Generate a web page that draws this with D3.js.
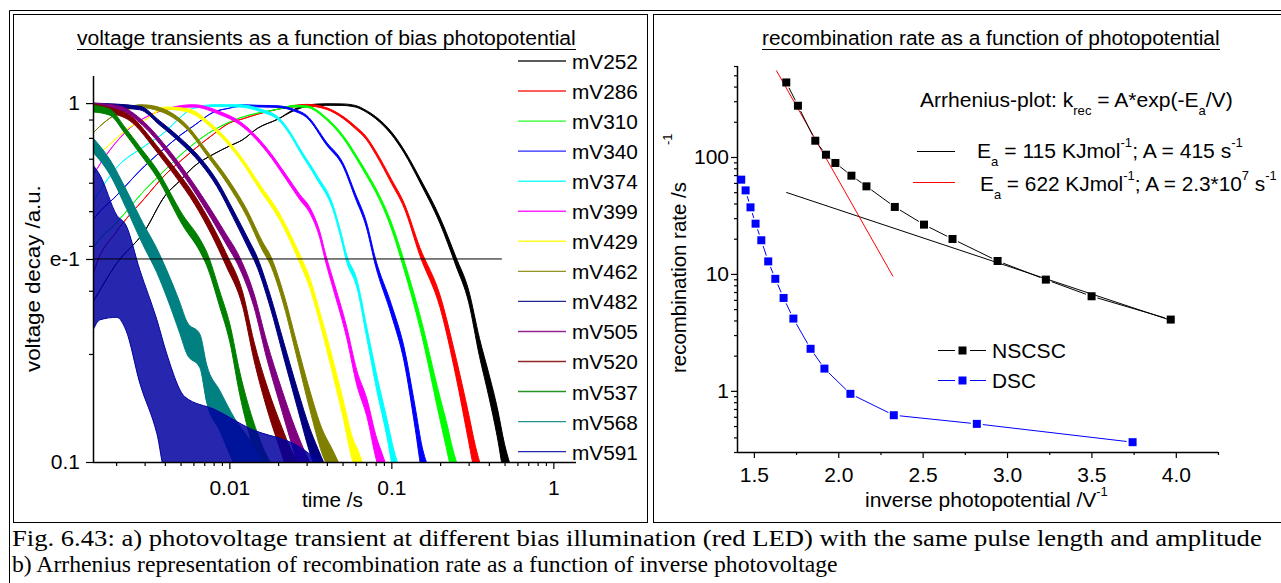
<!DOCTYPE html>
<html>
<head>
<meta charset="utf-8">
<script src="https://cdn.jsdelivr.net/npm/d3@7"></script>
<style>
  body { margin: 0; background: #fff; }
  svg text { font-family: "Liberation Sans", Arial, sans-serif; white-space: pre; }
</style>
</head>
<body>
<svg id="fig" width="1281" height="583"></svg>
<script>
// ---------- panel a: normalised photovoltage transients, [time s, lower, upper] of the noisy trace ----------
const biasLabels = ["mV252","mV286","mV310","mV340","mV374","mV399","mV429","mV462","mV482","mV505","mV520","mV537","mV568","mV591"];
const seriesColors = ["#000000","#ff0000","#00ff00","#0000ff","#00ffff","#ff00ff","#ffff00","#808000","#000080","#800080","#800000","#008000","#008080","#0000a0"];

const mV252 = [[0.00144,0.279,0.279],[0.0015,0.288,0.288],[0.002,0.356,0.356],[0.003,0.440,0.440],[0.004,0.551,0.551],[0.005,0.610,0.610],[0.006,0.664,0.664],[0.008,0.721,0.721],[0.01,0.759,0.759],[0.012,0.789,0.789],[0.015,0.852,0.852],[0.02,0.903,0.903],[0.025,0.952,0.96],[0.03,0.978,0.988],[0.04,0.986,0.996],[0.05,0.985,0.995],[0.06,0.975,0.985],[0.07,0.944,0.954],[0.08,0.905,0.917],[0.1,0.818,0.832],[0.12,0.726,0.74],[0.15,0.602,0.618],[0.2,0.461,0.479],[0.25,0.353,0.373],[0.3,0.279,0.301],[0.35,0.197,0.221],[0.4,0.152,0.176],[0.45,0.118,0.142],[0.5,0.09,0.112],[0.55,0.078,0.096]];
const mV286 = [[0.00144,0.332,0.332],[0.0015,0.352,0.352],[0.002,0.437,0.437],[0.003,0.543,0.543],[0.004,0.630,0.630],[0.005,0.690,0.690],[0.006,0.740,0.740],[0.008,0.820,0.820],[0.01,0.880,0.880],[0.012,0.903,0.903],[0.015,0.932,0.932],[0.02,0.962,0.962],[0.025,0.975,0.985],[0.03,0.982,0.992],[0.04,0.96,0.97],[0.05,0.908,0.92],[0.06,0.848,0.862],[0.07,0.792,0.806],[0.08,0.72,0.736],[0.1,0.598,0.614],[0.12,0.51,0.526],[0.15,0.376,0.396],[0.2,0.269,0.291],[0.25,0.174,0.196],[0.3,0.114,0.136],[0.33,0.091,0.111],[0.36,0.078,0.096]];
const mV310 = [[0.00144,0.394,0.394],[0.0015,0.405,0.405],[0.002,0.463,0.463],[0.003,0.572,0.572],[0.004,0.651,0.651],[0.005,0.717,0.717],[0.006,0.769,0.769],[0.008,0.841,0.841],[0.01,0.885,0.885],[0.012,0.914,0.914],[0.015,0.938,0.938],[0.02,0.962,0.962],[0.025,0.976,0.986],[0.03,0.973,0.983],[0.04,0.896,0.908],[0.05,0.802,0.816],[0.06,0.707,0.722],[0.07,0.629,0.644],[0.08,0.565,0.58],[0.1,0.447,0.465],[0.12,0.343,0.363],[0.15,0.237,0.257],[0.2,0.131,0.151],[0.22,0.108,0.128],[0.24,0.09,0.108],[0.26,0.078,0.096]];
const mV340 = [[0.00144,0.472,0.472],[0.0015,0.484,0.484],[0.002,0.551,0.551],[0.003,0.668,0.668],[0.004,0.749,0.749],[0.005,0.815,0.815],[0.006,0.863,0.863],[0.008,0.944,0.944],[0.01,0.968,0.968],[0.012,0.98,0.99],[0.015,0.976,0.986],[0.02,0.973,0.983],[0.025,0.951,0.961],[0.03,0.912,0.924],[0.04,0.762,0.776],[0.05,0.67,0.684],[0.06,0.543,0.559],[0.07,0.452,0.468],[0.08,0.351,0.367],[0.1,0.257,0.275],[0.12,0.19,0.208],[0.14,0.125,0.143],[0.155,0.092,0.11],[0.17,0.078,0.096]];
const mV374 = [[0.00144,0.531,0.531],[0.0015,0.547,0.547],[0.002,0.659,0.659],[0.003,0.759,0.759],[0.004,0.83,0.83],[0.005,0.914,0.914],[0.006,0.968,0.968],[0.008,0.978,0.99],[0.0116,0.975,0.99],[0.0154,0.948,0.964],[0.0205,0.889,0.905],[0.02363,0.817,0.833],[0.02724,0.732,0.748],[0.03468,0.614,0.63],[0.04356,0.505,0.521],[0.0488,0.421,0.437],[0.0531,0.36,0.376],[0.0612,0.307,0.323],[0.0706,0.221,0.237],[0.0814,0.158,0.174],[0.0938,0.118,0.132],[0.1036,0.092,0.108],[0.1129,0.078,0.095]];
const mV399 = [[0.00144,0.63,0.63],[0.00183,0.74,0.74],[0.00243,0.852,0.852],[0.00323,0.926,0.926],[0.00429,0.962,0.97],[0.006,0.975,0.99],[0.00874,0.929,0.947],[0.0116,0.871,0.889],[0.01704,0.731,0.749],[0.02264,0.609,0.627],[0.02724,0.538,0.556],[0.0314,0.494,0.512],[0.0362,0.42,0.438],[0.03942,0.359,0.377],[0.04356,0.306,0.324],[0.0531,0.221,0.237],[0.0612,0.164,0.18],[0.0706,0.134,0.15],[0.0814,0.1,0.116],[0.0861,0.092,0.108],[0.0951,0.078,0.095]];
const mV429 = [[0.00144,0.717,0.717],[0.00166,0.74,0.74],[0.00202,0.80,0.80],[0.00243,0.857,0.857],[0.00301,0.897,0.897],[0.004,0.962,0.975],[0.00547,0.946,0.966],[0.00791,0.847,0.867],[0.01161,0.697,0.717],[0.01543,0.573,0.593],[0.0205,0.471,0.491],[0.02724,0.358,0.378],[0.0314,0.305,0.325],[0.0362,0.244,0.262],[0.04356,0.175,0.193],[0.05019,0.134,0.15],[0.05788,0.1,0.116],[0.06213,0.092,0.108],[0.06862,0.078,0.095]];
const mV462 = [[0.00144,0.825,0.825],[0.0015,0.841,0.841],[0.00183,0.908,0.908],[0.0023,0.956,0.962],[0.0028,0.972,0.99],[0.00323,0.966,0.986],[0.00547,0.846,0.868],[0.00726,0.715,0.737],[0.00965,0.599,0.621],[0.01282,0.483,0.505],[0.0161,0.387,0.409],[0.01778,0.357,0.379],[0.0217,0.273,0.293],[0.02611,0.196,0.214],[0.0314,0.14,0.158],[0.03724,0.106,0.124],[0.04295,0.091,0.109],[0.0481,0.078,0.098]];
const mV482 = [[0.00144,0.98,1.0],[0.0028,0.958,0.98],[0.00372,0.868,0.892],[0.00495,0.777,0.801],[0.00658,0.682,0.706],[0.00837,0.586,0.61],[0.01051,0.482,0.506],[0.01338,0.386,0.41],[0.01458,0.356,0.38],[0.01778,0.272,0.294],[0.0217,0.195,0.215],[0.02648,0.14,0.158],[0.0314,0.106,0.124],[0.03518,0.091,0.109],[0.03886,0.078,0.098]];
const mV505 = [[0.00144,0.975,1.0],[0.00211,0.955,0.98],[0.00292,0.867,0.893],[0.00411,0.727,0.753],[0.00547,0.609,0.635],[0.00726,0.5,0.526],[0.00965,0.402,0.428],[0.01128,0.355,0.381],[0.01417,0.271,0.295],[0.01704,0.194,0.216],[0.02109,0.139,0.159],[0.02537,0.105,0.125],[0.02843,0.09,0.11],[0.0314,0.078,0.1]];
const mV520 = [[0.00144,0.965,0.995],[0.00183,0.94,0.972],[0.00243,0.893,0.923],[0.00362,0.725,0.755],[0.00461,0.628,0.658],[0.00612,0.522,0.552],[0.0078,0.428,0.458],[0.00952,0.353,0.383],[0.01211,0.27,0.296],[0.01417,0.193,0.217],[0.01729,0.138,0.16],[0.02109,0.105,0.125],[0.02363,0.09,0.11],[0.0265,0.078,0.1]];
const mV537 = [[0.00144,0.945,0.985],[0.00183,0.925,0.962],[0.00226,0.825,0.858],[0.0028,0.724,0.756],[0.00357,0.622,0.654],[0.00516,0.456,0.488],[0.00658,0.386,0.418],[0.00726,0.352,0.384],[0.00874,0.27,0.298],[0.01007,0.216,0.242],[0.0116,0.154,0.178],[0.01397,0.11,0.131],[0.0161,0.09,0.11],[0.0178,0.078,0.1]];
const mV568 = [[0.00144,0.73,0.80],[0.00183,0.632,0.696],[0.00233,0.505,0.569],[0.00292,0.404,0.464],[0.00357,0.337,0.393],[0.00411,0.288,0.342],[0.00495,0.228,0.278],[0.00547,0.2,0.246],[0.00658,0.183,0.227],[0.00726,0.146,0.186],[0.00874,0.122,0.158],[0.01081,0.098,0.132],[0.01338,0.085,0.115],[0.016,0.078,0.1]];
const mV591 = [[0.00144,0.233,0.672],[0.00159,0.249,0.63],[0.00202,0.253,0.487],[0.0023,0.233,0.457],[0.0028,0.166,0.343],[0.00357,0.12,0.249],[0.00411,0.09,0.2],[0.00531,0.089,0.152],[0.00814,0.089,0.14],[0.01338,0.089,0.124],[0.02724,0.089,0.11],[0.0362,0.089,0.1]];
const transients = [mV252, mV286, mV310, mV340, mV374, mV399, mV429, mV462, mV482, mV505, mV520, mV537, mV568, mV591];

// 1/e level marker
const eLevel = [[0.00144, 0.3679], [0.481, 0.3679]];

const timeTicks = [0.01, 0.1, 1];
const timeTickLabels = ["0.01", "0.1", "1"];
const timeMinor = [0.002,0.003,0.004,0.005,0.006,0.007,0.008,0.009,0.02,0.03,0.04,0.05,0.06,0.07,0.08,0.09,0.2,0.3,0.4,0.5,0.6,0.7,0.8,0.9];
const decayTicks = [0.1, 0.3679, 1];
const decayTickLabels = ["0.1", "e-1", "1"];
const decayMinor = [0.2,0.3,0.4,0.5,0.6,0.7,0.8,0.9];

// ---------- panel b: recombination rate vs inverse photopotential ----------
const invV_NSCSC = [1.692, 1.761, 1.864, 1.927, 1.983, 2.078, 2.167, 2.335, 2.508, 2.677, 2.944, 3.230, 3.501, 3.970];
const rate_NSCSC = [434, 274.5, 137.8, 104.6, 88.9, 69.2, 56.1, 37.4, 26.4, 19.9, 12.9, 8.94, 6.44, 4.07];
const invV_DSC = [1.425, 1.451, 1.480, 1.510, 1.544, 1.585, 1.627, 1.676, 1.734, 1.836, 1.918, 2.072, 2.329, 2.821, 3.744];
const rate_DSC = [64.0, 51.8, 37.1, 26.9, 19.4, 12.8, 9.08, 6.23, 4.15, 2.29, 1.55, 0.943, 0.619, 0.522, 0.364];
const fit115 = [[1.692, 49.8], [3.970, 4.01]];
const fit622 = [[1.633, 550], [2.324, 9.54]];

const invVTicks = [1.5, 2.0, 2.5, 3.0, 3.5, 4.0];
const invVMinor = [1.75, 2.25, 2.75, 3.25, 3.75, 4.25];
const rateTicks = [1, 10, 100];
const rateMinor = [0.3,0.4,0.5,0.6,0.7,0.8,0.9,2,3,4,5,6,7,8,9,20,30,40,50,60,70,80,90,200,300,400,500,600];

const captionLines = [
  "Fig. 6.43: a) photovoltage transient at different bias illumination (red LED) with the same pulse length and amplitude",
  "b) Arrhenius representation of recombination rate as a function of inverse photovoltage"
];

// ======================================================================
const svg = d3.select("#fig");
const FONT = 21;
const SANS = "Liberation Sans, Arial, sans-serif";

// squeeze a text element horizontally so that it spans `width` from x0
function fitWidth(t, x0, width) {
  const w = t.node().getBBox().width;
  const k = width / w;
  t.attr("transform", `translate(${x0},0) scale(${k},1) translate(${-x0},0)`);
  return t;
}
// text with sub/superscript runs: parts = [[string, shift]] (1 sup, -1 sub)
function richText(g, x, y, parts, size) {
  const t = g.append("text").attr("x", x).attr("y", y).attr("font-size", size);
  let cur = 0;
  parts.forEach(([s, shift]) => {
    const target = shift === 1 ? -Math.round(size * 0.5) : shift === -1 ? Math.round(size * 0.38) : 0;
    t.append("tspan").attr("dy", target - cur).attr("font-size", shift ? Math.round(size * 0.62) : size).text(s);
    cur = target;
  });
  return t;
}
function styleAxis(g) {
  g.attr("font-size", FONT).attr("font-family", SANS);
  g.selectAll("text").attr("fill", "#000");
}

// ---------- table frame ----------
const frame = svg.append("g").attr("fill", "none").attr("stroke", "#000").attr("stroke-width", 1);
frame.append("path").attr("d", "M9.5,583 V10.5 H1281");
frame.append("rect").attr("x", 13.5).attr("y", 14.5).attr("width", 634).attr("height", 508);
frame.append("rect").attr("x", 653.5).attr("y", 14.5).attr("width", 700).attr("height", 508);

// ---------- panel a ----------
const A = { left: 93, right: 576, top: 76, bottom: 462 };
const xA = d3.scaleLog().domain([0.00144, 1.38]).range([A.left, A.right]);
const yA = d3.scaleLog().domain([0.1, 1.19]).range([A.bottom, A.top]);
const ga = svg.append("g");

ga.append("clipPath").attr("id", "clipA").append("rect")
  .attr("x", A.left).attr("y", A.top - 10).attr("width", A.right - A.left).attr("height", A.bottom - A.top + 10);

const band = d3.area()
  .x(d => xA(d[0])).y0(d => yA(d[1])).y1(d => yA(d[2]))
  .curve(d3.curveMonotoneX);

const traces = ga.append("g").attr("clip-path", "url(#clipA)");
transients.forEach((s, i) => {
  traces.append("path").datum(s)
    .attr("d", band)
    .attr("fill", seriesColors[i])
    .attr("fill-opacity", i === transients.length - 1 ? 0.85 : 1)
    .attr("stroke", seriesColors[i])
    .attr("stroke-width", 1)
    .attr("stroke-linejoin", "round");
});

ga.append("path").datum(eLevel)
  .attr("d", d3.line().x(d => xA(d[0])).y(d => yA(d[1])))
  .attr("stroke", "#000").attr("stroke-width", 1).attr("fill", "none");

// axes
const axA = ga.append("g");
const yAxisA = axA.append("g").attr("transform", `translate(${A.left},0)`)
  .call(d3.axisLeft(yA).tickValues(decayTicks).tickFormat((d, i) => decayTickLabels[i]).tickSize(7).tickSizeOuter(0).tickPadding(6));
axA.append("g").attr("transform", `translate(${A.left},0)`)
  .call(d3.axisLeft(yA).tickValues(decayMinor).tickFormat("").tickSize(4).tickSizeOuter(0))
  .select(".domain").remove();
const xAxisA = axA.append("g").attr("transform", `translate(0,${A.bottom})`)
  .call(d3.axisBottom(xA).tickValues(timeTicks).tickFormat((d, i) => timeTickLabels[i]).tickSize(7).tickSizeOuter(0).tickPadding(11));
axA.append("g").attr("transform", `translate(0,${A.bottom})`)
  .call(d3.axisBottom(xA).tickValues(timeMinor).tickFormat("").tickSize(4).tickSizeOuter(0))
  .select(".domain").remove();
yAxisA.select(".domain").attr("d", `M0.5,${A.top}V${A.bottom}`);
xAxisA.select(".domain").attr("d", `M${A.left},0.5H${A.right}`);
axA.selectAll(".domain").attr("stroke-width", 1.5);
axA.selectAll(".tick line").attr("stroke-width", 1.2);
styleAxis(yAxisA); styleAxis(xAxisA);

// titles
const titleA = ga.append("text").attr("x", 77).attr("y", 45).attr("font-size", FONT).text("voltage transients as a function of bias photopotential");
fitWidth(titleA, 77, 499);
ga.append("line").attr("x1", 77).attr("x2", 576).attr("y1", 49.5).attr("y2", 49.5).attr("stroke", "#000").attr("stroke-width", 1);

const xLabA = ga.append("text").attr("x", 302).attr("y", 507).attr("font-size", FONT).text("time /s");
fitWidth(xLabA, 302, 61);
const yLabGA = ga.append("g").attr("transform", "translate(40,372) rotate(-90)");
const yLabA = yLabGA.append("text").attr("x", 0).attr("y", 0).attr("font-size", FONT).text("voltage decay /a.u.");
fitWidth(yLabA, 0, 187);

// legend
const legA = ga.append("g");
biasLabels.forEach((lab, i) => {
  const y = 61 + i * 30.05;
  legA.append("line").attr("x1", 518).attr("x2", 566).attr("y1", y).attr("y2", y)
    .attr("stroke", seriesColors[i]).attr("stroke-width", 1.4).attr("opacity", 0.85);
  const t = legA.append("text").attr("x", 572).attr("y", y + 8).attr("font-size", FONT).text(lab);
  fitWidth(t, 572, 66);
});

// ---------- panel b ----------
const B = { left: 737, right: 1218, top: 66, bottom: 452 };
const xB = d3.scaleLinear().domain([1.4, 4.25]).range([B.left, B.right]);
const yB = d3.scaleLog().domain([0.3, 600]).range([B.bottom, B.top]);
const gb = svg.append("g");

const axB = gb.append("g");
const yAxisB = axB.append("g").attr("transform", `translate(${B.left},0)`)
  .call(d3.axisLeft(yB).tickValues(rateTicks).tickFormat(d3.format("d")).tickSize(6).tickSizeOuter(0).tickPadding(2));
axB.append("g").attr("transform", `translate(${B.left},0)`)
  .call(d3.axisLeft(yB).tickValues(rateMinor).tickFormat("").tickSize(3).tickSizeOuter(0))
  .select(".domain").remove();
const xAxisB = axB.append("g").attr("transform", `translate(0,${B.bottom})`)
  .call(d3.axisBottom(xB).tickValues(invVTicks).tickFormat(d3.format(".1f")).tickSize(6).tickSizeOuter(0).tickPadding(9));
axB.append("g").attr("transform", `translate(0,${B.bottom})`)
  .call(d3.axisBottom(xB).tickValues(invVMinor).tickFormat("").tickSize(3).tickSizeOuter(0))
  .select(".domain").remove();
yAxisB.select(".domain").attr("d", `M0.5,${B.top}V${B.bottom}`);
xAxisB.select(".domain").attr("d", `M${B.left},0.5H${B.right}`);
axB.selectAll(".domain").attr("stroke-width", 1.5);
axB.selectAll(".tick line").attr("stroke-width", 1.2);
styleAxis(yAxisB); styleAxis(xAxisB);

// Arrhenius fits
const fitLine = d3.line().x(d => xB(d[0])).y(d => yB(d[1]));
gb.append("path").datum(fit115).attr("d", fitLine).attr("stroke", "#000").attr("stroke-width", 1).attr("fill", "none");
gb.append("path").datum(fit622).attr("d", fitLine).attr("stroke", "#ff0000").attr("stroke-width", 1).attr("fill", "none");

// line + symbol series, line broken around each symbol
function lineSymbol(xs, ys, color, size) {
  const pts = xs.map((x, i) => [xB(x), yB(ys[i])]);
  const g = gb.append("g");
  const gap = size / 2 + 2;
  for (let i = 0; i < pts.length - 1; i++) {
    const [x1, y1] = pts[i], [x2, y2] = pts[i + 1];
    const dx = x2 - x1, dy = y2 - y1, len = Math.hypot(dx, dy);
    if (len <= 2 * gap) continue;
    const ux = dx / len, uy = dy / len;
    g.append("line")
      .attr("x1", x1 + ux * gap).attr("y1", y1 + uy * gap)
      .attr("x2", x2 - ux * gap).attr("y2", y2 - uy * gap)
      .attr("stroke", color).attr("stroke-width", 1);
  }
  g.selectAll("rect.sym").data(pts).join("rect").attr("class", "sym")
    .attr("x", d => d[0] - size / 2).attr("y", d => d[1] - size / 2)
    .attr("width", size).attr("height", size).attr("fill", color);
}
lineSymbol(invV_NSCSC, rate_NSCSC, "#000000", 8);
lineSymbol(invV_DSC, rate_DSC, "#0000ff", 8);

// titles and labels
const titleB = gb.append("text").attr("x", 762).attr("y", 45).attr("font-size", FONT).text("recombination rate as a function of photopotential");
fitWidth(titleB, 762, 458);
gb.append("line").attr("x1", 762).attr("x2", 1220).attr("y1", 49.5).attr("y2", 49.5).attr("stroke", "#000").attr("stroke-width", 1);

const xLabB = richText(gb, 865, 507, [["inverse photopotential /V", 0], ["-1", 1]], FONT);
fitWidth(xLabB, 865, 243);

const yLabGB = gb.append("g").attr("transform", "translate(686,373) rotate(-90)");
const yLabB = yLabGB.append("text").attr("x", 0).attr("y", 0).attr("font-size", FONT).text("recombination rate /s");
fitWidth(yLabB, 0, 191);
yLabGB.append("text").attr("x", 228).attr("y", -14).attr("font-size", 13).text("-1");

// annotations
const arr = richText(gb, 920, 107, [["Arrhenius-plot: k", 0], ["rec", -1], [" = A*exp(-E", 0], ["a", -1], ["/V)", 0]], FONT);
fitWidth(arr, 920, 313);
gb.append("line").attr("x1", 917).attr("x2", 955).attr("y1", 151.5).attr("y2", 151.5).attr("stroke", "#000").attr("stroke-width", 1);
gb.append("line").attr("x1", 913).attr("x2", 955).attr("y1", 182.5).attr("y2", 182.5).attr("stroke", "#ff0000").attr("stroke-width", 1);
const e1 = richText(gb, 977, 158, [["E", 0], ["a", -1], [" = 115 KJmol", 0], ["-1", 1], ["; A = 415 s", 0], ["-1", 1]], FONT);
fitWidth(e1, 977, 266);
const e2 = richText(gb, 980, 191, [["E", 0], ["a", -1], [" = 622 KJmol", 0], ["-1", 1], ["; A = 2.3*10", 0], ["7", 1], [" s", 0], ["-1", 1]], FONT);
fitWidth(e2, 980, 297);

// series legend
[["NSCSC", "#000000", 350], ["DSC", "#0000ff", 380]].forEach(([lab, col, y]) => {
  gb.append("line").attr("x1", 938).attr("x2", 955).attr("y1", y + 0.5).attr("y2", y + 0.5).attr("stroke", col).attr("stroke-width", 1);
  gb.append("line").attr("x1", 970).attr("x2", 986).attr("y1", y + 0.5).attr("y2", y + 0.5).attr("stroke", col).attr("stroke-width", 1);
  gb.append("rect").attr("x", 958.5).attr("y", y - 3.5).attr("width", 8).attr("height", 8).attr("fill", col);
  const t = gb.append("text").attr("x", 992).attr("y", y + 8).attr("font-size", FONT).text(lab);
  fitWidth(t, 992, lab === "NSCSC" ? 74 : 44);
});

// ---------- caption ----------
const cap = svg.append("g").attr("font-size", 23);
const c1 = cap.append("text").attr("x", 12).attr("y", 546).style("font-family", "'Liberation Serif', 'Times New Roman', serif").text(captionLines[0]);
fitWidth(c1, 12, 1250);
const c2 = cap.append("text").attr("x", 12).attr("y", 572).style("font-family", "'Liberation Serif', 'Times New Roman', serif").text(captionLines[1]);
fitWidth(c2, 12, 826);
</script>
</body>
</html>
